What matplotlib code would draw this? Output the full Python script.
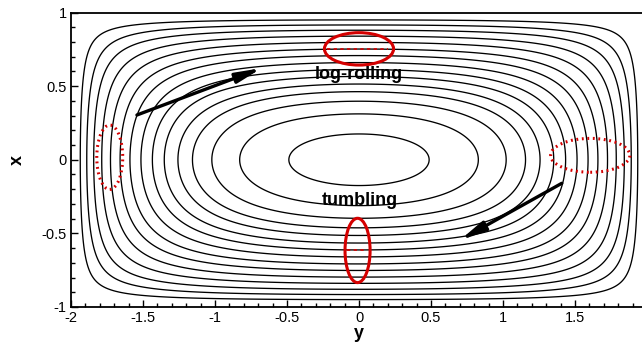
import numpy as np
import matplotlib

matplotlib.use("Agg")
import matplotlib.pyplot as plt
from matplotlib.patches import Ellipse
from matplotlib.ticker import MultipleLocator

plt.rcParams["font.family"] = ["Liberation Sans", "DejaVu Sans"]

# duct cross-section: |y| <= HALF_WIDTH, |x| <= HALF_HEIGHT
HALF_WIDTH = 2.0
HALF_HEIGHT = 1.0

# contour levels as fractions of the centreline velocity
levels_frac = [0.10, 0.165, 0.23, 0.30, 0.37, 0.44, 0.505, 0.57, 0.63,
               0.685, 0.74, 0.79, 0.845, 0.905, 0.97]

x_ticks = [-2, -1.5, -1, -0.5, 0, 0.5, 1, 1.5]
x_tick_labels = ["-2", "-1.5", "-1", "-0.5", "0", "0.5", "1", "1.5"]
y_ticks = [-1, -0.5, 0, 0.5, 1]
y_tick_labels = ["-1", "-0.5", "0", "0.5", "1"]

# highlighted regions: (centre y, centre x, width, height, style)
markers = [
    (0.0, 0.753, 0.48, 0.22, "solid"),
    (-0.01, -0.616, 0.174, 0.437, "solid"),
    (-1.731, 0.017, 0.18, 0.437, "dotted"),
    (1.606, 0.03, 0.55, 0.23, "dotted"),
]
# short dashed chords inside the solid markers: (y0, y1, x)
chords = [(-0.22, 0.20, 0.75), (-0.085, 0.058, -0.613)]

# rotation direction arrows: (y0, x0, y1, x1)
arrows = [(-1.542, 0.304, -0.674, 0.623), (1.408, -0.160, 0.701, -0.546)]


def duct_velocity(Y, X, n_terms=60):
    """Laminar velocity in a rectangular duct (lap u = -1, u = 0 on walls)."""
    a, b = HALF_WIDTH, HALF_HEIGHT
    u = np.zeros_like(Y)
    ay = np.abs(Y)
    for k in range(n_terms):
        n = 2 * k + 1
        m = n * np.pi / (2 * b)
        coef = 16 * b ** 2 / np.pi ** 3 * (-1) ** k / n ** 3
        # cosh(m y) / cosh(m a) written without overflow
        ratio = np.exp(m * (ay - a)) * (1 + np.exp(-2 * m * ay)) / (1 + np.exp(-2 * m * a))
        u += coef * (1 - ratio) * np.cos(m * X)
    return u


W, H = 642, 344
fig = plt.figure(figsize=(W / 100, H / 100), dpi=100)
ax = fig.add_axes([71 / W, (H - 307) / H, (647 - 71) / W, (307 - 12.5) / H])

yy = np.linspace(-HALF_WIDTH, HALF_WIDTH, 801)
xx = np.linspace(-HALF_HEIGHT, HALF_HEIGHT, 401)
Y, X = np.meshgrid(yy, xx)
U = duct_velocity(Y, X)
u_max = duct_velocity(np.zeros(1), np.zeros(1))[0]
ax.contour(Y, X, U / u_max, levels=levels_frac, colors="black",
           linewidths=0.95, linestyles="solid")

for cy, cx, w, h, style in markers:
    ls = "-" if style == "solid" else (0, (0.6, 1.2))
    ax.add_patch(Ellipse((cy, cx), w, h, fill=False, edgecolor="#d40000",
                         linewidth=2.2, linestyle=ls, zorder=5))
for y0, y1, xc in chords:
    ax.plot([y0, y1], [xc, xc], color="#d40000", linewidth=1.2,
            linestyle=(0, (2, 2)), zorder=5)

for y0, x0, y1, x1 in arrows:
    ax.annotate("", xy=(y1, x1), xytext=(y0, x0),
                arrowprops=dict(arrowstyle="-|>,head_length=1.5,head_width=0.3",
                                color="black", lw=2.4, shrinkA=0, shrinkB=0),
                zorder=6)

ax.text(0.0, 0.576, "log-rolling", ha="center", va="center",
        fontsize=13, fontweight="bold", zorder=7)
ax.text(0.007, -0.275, "tumbling", ha="center", va="center",
        fontsize=13, fontweight="bold", zorder=7)

ax.set_xlim(-HALF_WIDTH, HALF_WIDTH)
ax.set_ylim(-HALF_HEIGHT, HALF_HEIGHT)
ax.set_xticks(x_ticks)
ax.set_xticklabels(x_tick_labels)
ax.set_yticks(y_ticks)
ax.set_yticklabels(y_tick_labels)
ax.xaxis.set_minor_locator(MultipleLocator(0.1))
ax.yaxis.set_minor_locator(MultipleLocator(0.1))
ax.tick_params(which="both", direction="in", labelsize=10.5, width=1.0, pad=3)
ax.tick_params(which="major", length=5)
ax.tick_params(which="minor", length=3)
for side in ax.spines.values():
    side.set_linewidth(1.3)

ax.set_xlabel("y", fontsize=13, fontweight="bold", labelpad=0)
ax.set_ylabel("x", fontsize=13, fontweight="bold", labelpad=11)

fig.savefig("out.png", dpi=100)
